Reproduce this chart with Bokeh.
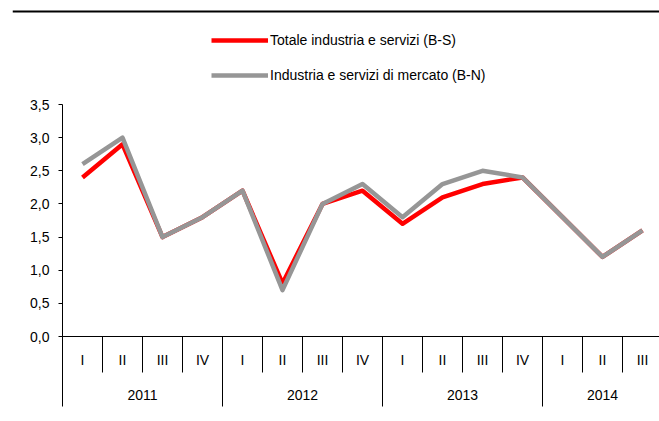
from bokeh.plotting import figure
from bokeh.models import (Range1d, LinearAxis, FixedTicker, CustomJSTickFormatter,
                          Legend, LegendItem, BoxAnnotation)
from bokeh.embed import file_html
from bokeh.resources import INLINE

# ---- data ----
years = ["2011", "2012", "2013", "2014"]
quarters_per_year = [4, 4, 4, 3]
quarter_labels = ["I", "II", "III", "IV", "I", "II", "III", "IV",
                  "I", "II", "III", "IV", "I", "II", "III"]
totale_bs = [2.4, 2.9, 1.5, 1.8, 2.2, 0.8, 2.0, 2.2, 1.7, 2.1, 2.3, 2.4, 1.8, 1.2, 1.6]
mercato_bn = [2.6, 3.0, 1.5, 1.8, 2.2, 0.7, 2.0, 2.3, 1.8, 2.3, 2.5, 2.4, 1.8, 1.2, 1.6]
y_ticks = [0.0, 0.5, 1.0, 1.5, 2.0, 2.5, 3.0, 3.5]
series_names = ["Totale industria e servizi (B-S)", "Industria e servizi di mercato (B-N)"]

FONT = "Liberation Sans"
FS = "14px"

# positions derived from the data
n = len(quarter_labels)
x_centers = [i + 0.5 for i in range(n)]
bounds = [0]
for q in quarters_per_year:
    bounds.append(bounds[-1] + q)
year_centers = [(bounds[i] + bounds[i + 1]) / 2 for i in range(len(years))]

# layout (pixels)
W, H = 659, 421
AXIS_X = 62          # pixel column of the value axis
PLOT_TOP = 104       # pixel row of the 3,5 tick
PLOT_BOTTOM = 336    # pixel row of the 0,0 line
FRAME_LEFT = 12
px_per_q = 40.0
ypx = 3.5 / (PLOT_BOTTOM - PLOT_TOP)   # data units per pixel

x_start = -(AXIS_X - FRAME_LEFT) / px_per_q
x_end = (W - AXIS_X) / px_per_q
y_start = -(H - PLOT_BOTTOM) * ypx
y_end = 3.5 + PLOT_TOP * ypx

p = figure(width=W, height=H, output_backend="svg", toolbar_location=None,
           x_range=Range1d(x_start, x_end), y_range=Range1d(y_start, y_end),
           x_axis_type=None, y_axis_type=None,
           min_border_left=FRAME_LEFT, min_border_right=0, min_border_top=0,
           min_border_bottom=0)
p.outline_line_color = None
p.xgrid.visible = False
p.ygrid.visible = False
p.background_fill_color = "white"
p.border_fill_color = "white"

# y axis, drawn at x = 0
yax = LinearAxis(ticker=FixedTicker(ticks=y_ticks, minor_ticks=[]),
                 formatter=CustomJSTickFormatter(code="return tick.toFixed(1).replace('.', ',');"))
yax.fixed_location = 0
yax.bounds = (0, 3.5)
yax.major_tick_out = 4
yax.major_tick_in = 0
yax.minor_tick_out = 0
yax.major_label_standoff = 9
yax.major_label_text_font = FONT
yax.major_label_text_font_size = FS
yax.major_label_text_color = "black"
yax.axis_line_color = "black"
yax.major_tick_line_color = "black"
p.add_layout(yax, "left")

# quarter axis, drawn at y = 0
qax = LinearAxis(ticker=FixedTicker(ticks=x_centers, minor_ticks=list(range(n + 1))),
                 formatter=CustomJSTickFormatter(args=dict(qlabels=quarter_labels),
                                                 code="return qlabels[Math.floor(tick)];"))
qax.fixed_location = 0
qax.bounds = (0, x_end)
qax.major_tick_out = 0
qax.major_tick_in = 0
qax.minor_tick_out = 36
qax.minor_tick_in = 0
qax.minor_tick_line_color = "black"
qax.axis_line_color = "black"
qax.major_label_standoff = -21
qax.major_label_text_font = FONT
qax.major_label_text_font_size = FS
qax.major_label_text_color = "black"
p.add_layout(qax, "below")

# year axis, also drawn at y = 0 (longer separators)
yrax = LinearAxis(ticker=FixedTicker(ticks=year_centers, minor_ticks=bounds),
                  formatter=CustomJSTickFormatter(args=dict(ylabels=years, ycenters=year_centers),
                                                  code="return ylabels[ycenters.indexOf(tick)];"))
yrax.fixed_location = 0
yrax.bounds = (0, x_end)
yrax.major_tick_out = 0
yrax.major_tick_in = 0
yrax.minor_tick_out = 70
yrax.minor_tick_in = 0
yrax.minor_tick_line_color = "black"
yrax.axis_line_color = None
yrax.major_label_standoff = -17
yrax.major_label_text_font = FONT
yrax.major_label_text_font_size = FS
yrax.major_label_text_color = "black"
p.add_layout(yrax, "below")

# lines
r1 = p.line(x_centers, totale_bs, line_color="#FF0000", line_width=4.5, line_join="round")
r2 = p.line(x_centers, mercato_bn, line_color="#969696", line_width=4.5, line_join="round")

legend = Legend(items=[LegendItem(label=series_names[0], renderers=[r1]),
                       LegendItem(label=series_names[1], renderers=[r2])],
                location=(199, H - 85), orientation="vertical")
legend.padding = 0
legend.margin = 0
legend.border_line_color = None
legend.background_fill_alpha = 0
legend.glyph_width = 57
legend.glyph_height = 20
legend.label_height = 20
legend.label_standoff = 2
legend.spacing = 15
legend.label_text_font = FONT
legend.label_text_font_size = FS
legend.label_text_color = "black"
p.add_layout(legend, "center")

# top rule
p.add_layout(BoxAnnotation(left=x_start, right=x_end,
                           top=3.5 + (PLOT_TOP - 10) * ypx, bottom=3.5 + (PLOT_TOP - 12) * ypx,
                           fill_color="black", fill_alpha=1, line_color=None))

open("out.html", "w").write(file_html(p, INLINE))
